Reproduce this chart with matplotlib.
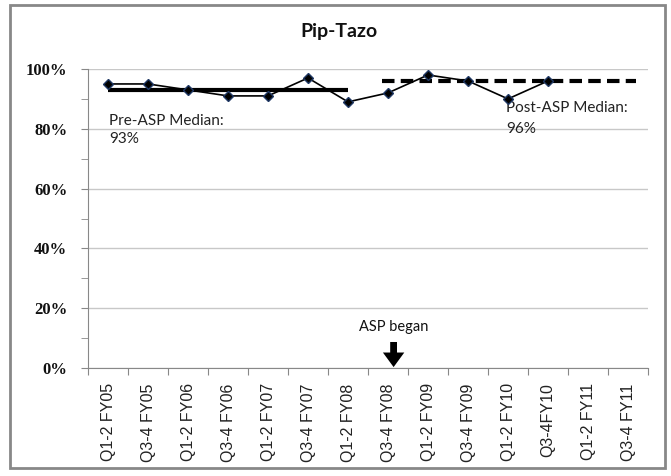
import matplotlib
matplotlib.use("Agg")
import matplotlib.pyplot as plt
from matplotlib.patches import Rectangle
from matplotlib.ticker import MultipleLocator, FuncFormatter

categories = ["Q1-2 FY05", "Q3-4 FY05", "Q1-2 FY06", "Q3-4 FY06", "Q1-2 FY07",
              "Q3-4 FY07", "Q1-2 FY08", "Q3-4 FY08", "Q1-2 FY09", "Q3-4 FY09",
              "Q1-2 FY10", "Q3-4FY10", "Q1-2 FY11", "Q3-4 FY11"]
values = [95, 95, 93, 91, 91, 97, 89, 92, 98, 96, 90, 96]
pre_median = 93
post_median = 96
pre_span = (0, 6)
post_span = (6.85, 13.2)
asp_start = 7.14

fig = plt.figure(figsize=(6.71, 4.76), dpi=100)
ax = fig.add_axes([88 / 671, 1 - 368 / 476, 560 / 671, 299 / 476])

x = list(range(len(values)))
ax.plot(x, values, color="black", lw=1.2, marker="D", ms=5, mfc="black", mec="#1f3864", zorder=4)
ax.plot(pre_span, [pre_median, pre_median], color="black", lw=3, solid_capstyle="butt", zorder=3)
ax.plot(post_span, [post_median, post_median], color="black", lw=3, ls=(0, (3, 1.5)), zorder=3)

ax.set_xlim(-0.5, len(categories) - 0.5)
ax.set_ylim(0, 100)
ax.yaxis.set_major_locator(MultipleLocator(20))
ax.yaxis.set_minor_locator(MultipleLocator(10))
ax.yaxis.set_major_formatter(FuncFormatter(lambda v, p: f"{int(v)}%"))
ax.grid(axis="y", which="major", color="#c8c8c8", lw=1)
ax.set_axisbelow(True)

cat_pos = list(range(len(categories)))
ax.set_xticks([i + 0.5 for i in range(-1, len(categories))], minor=False)
ax.set_xticklabels([])
ax.set_xticks(cat_pos, minor=True)
ax.set_xticklabels(categories, minor=True, rotation=90, fontsize=11.5,
                   family="Liberation Sans", color="#222222")
ax.tick_params(axis="x", which="minor", length=0, pad=11)
ax.tick_params(axis="x", which="major", length=5, color="#888888", direction="out")
ax.tick_params(axis="y", which="both", length=5, color="#888888", direction="out",
               labelsize=12, labelcolor="#111111", pad=10)
for lab in ax.get_yticklabels():
    lab.set_family("Liberation Serif")
    lab.set_fontweight("bold")

for s in ["top", "right"]:
    ax.spines[s].set_visible(False)
ax.spines["left"].set_color("#888888")
ax.spines["bottom"].set_color("#888888")

fig.text(339 / 671, 1 - 32 / 476, "Pip-Tazo", fontsize=14, fontweight="bold", family="Lato",
         ha="center", va="center", color="#111111")

ax.text(0.03, 82.7, "Pre-ASP Median:", fontsize=11, family="Lato", va="center", ha="left", color="#222222")
ax.text(0.03, 76.6, "93%", fontsize=11, family="Lato", va="center", ha="left", color="#222222")
ax.text(9.95, 87.1, "Post-ASP Median:", fontsize=11, family="Lato", va="center", ha="left", color="#222222")
ax.text(9.95, 80.0, "96%", fontsize=11, family="Lato", va="center", ha="left", color="#222222")

ax.text(asp_start, 13.7, "ASP began", fontsize=10.5, family="Lato", ha="center", va="center", color="#111111")
ax.annotate("", xy=(asp_start, 0.3), xytext=(asp_start, 8.7),
            arrowprops=dict(arrowstyle="simple,head_width=1.1,head_length=0.75,tail_width=0.35",
                            color="black", lw=0, mutation_scale=14, shrinkA=0, shrinkB=0))

fig.patches.append(Rectangle((10 / 671, 1 - 468 / 476), 655 / 671, 463 / 476,
                             transform=fig.transFigure, fill=False, ec="#888888", lw=2))

fig.savefig("out.png", dpi=100)
